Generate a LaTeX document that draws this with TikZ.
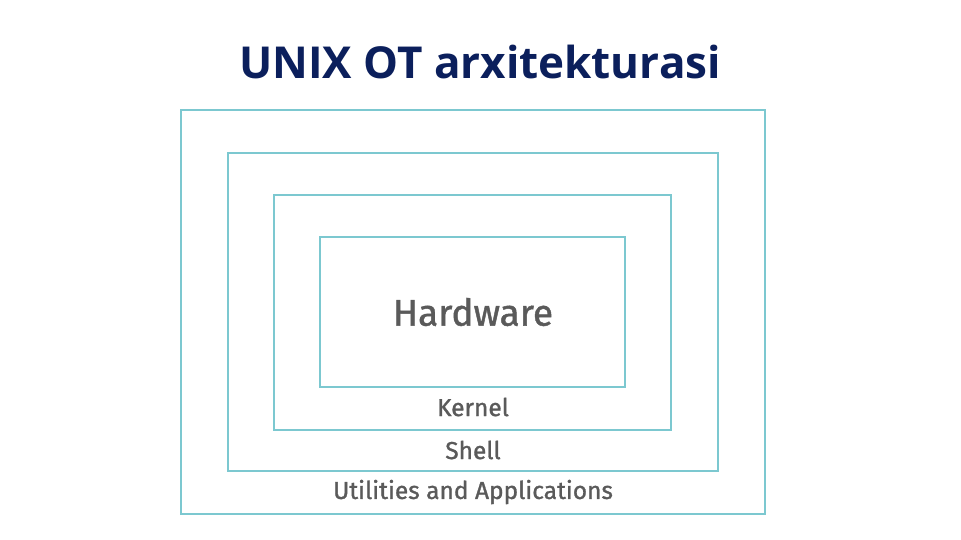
\documentclass[tikz,border=0pt]{standalone}
\usepackage{fontspec}
\setmainfont{Fira Sans}
\newfontfamily\titlefont{Open Sans}
\newfontfamily\labelfont[FakeBold=1.2]{Fira Sans}
\usetikzlibrary{positioning}

\definecolor{navy}{HTML}{0B1F5C}
\definecolor{layerline}{HTML}{7CC8D0}
\definecolor{layertext}{HTML}{5A5A5A}

\begin{document}
\begin{tikzpicture}[
    x=1pt, y=-1pt,
    layer/.style={
        draw=layerline,
        line width=1.6pt
    },
    layerlabel/.style={
        text=layertext,
        font=\labelfont\fontsize{24.5}{28}\selectfont
    }
]

\useasboundingbox (0,0) rectangle (961,540);

% title
\node[text=navy, font=\titlefont\bfseries\fontsize{44}{52}\selectfont] (title) at (480,62) {UNIX OT arxitekturasi};

% nested layers
\draw[layer] (181,110) rectangle (765,514);
\draw[layer] (228,153) rectangle (718,471);
\draw[layer] (274,195) rectangle (671,430);
\draw[layer] (320,237) rectangle (625,387);

\node[layerlabel, font=\labelfont\fontsize{37}{42}\selectfont] (hardware) at (473,312) {Hardware};
\node[layerlabel] (kernel) at (473,407) {Kernel};
\node[layerlabel] (shell) at (473,450) {Shell};
\node[layerlabel] (utils) at (473,492) {Utilities and Applications};

\end{tikzpicture}
\end{document}
